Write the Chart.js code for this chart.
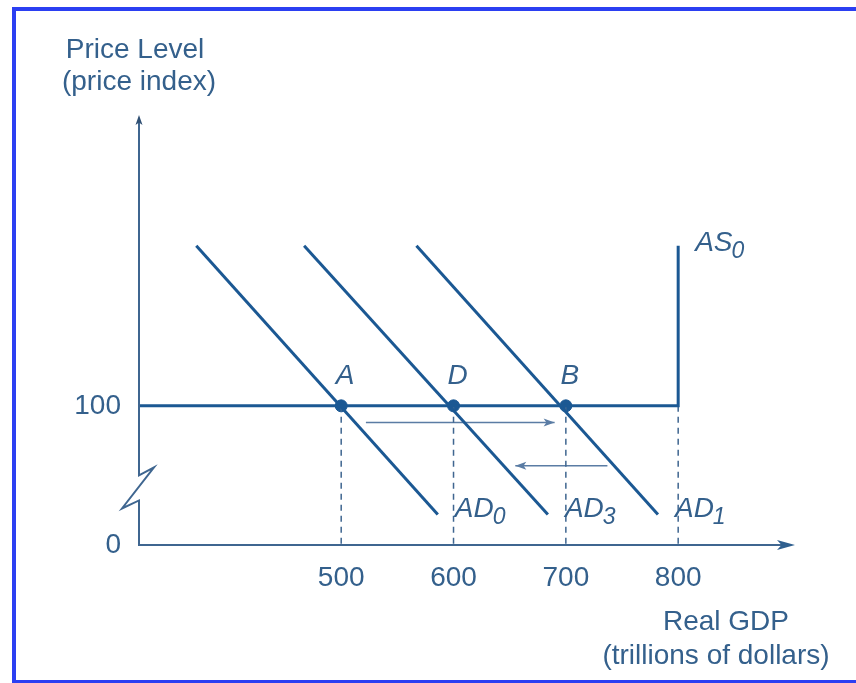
<!DOCTYPE html>
<html>
<head>
<meta charset="utf-8">
<script src="https://cdn.jsdelivr.net/npm/chart.js@4.4.1/dist/chart.umd.min.js"></script>
<style>
  html, body { margin: 0; padding: 0; background: #fff; }
  #wrap { position: relative; width: 856px; height: 683px; overflow: hidden; }
  #frame { position: absolute; left: 12px; top: 7px; width: 900px; height: 676px; box-sizing: border-box;
           border-left: 4px solid #2b3ff2; border-top: 4px solid #2b3ff2; border-bottom: 3px solid #2b3ff2; }
  #chart { position: absolute; left: 0; top: 0; }
</style>
</head>
<body>
<div id="wrap">
  <div id="frame"></div>
  <canvas id="chart" width="856" height="683"></canvas>
</div>
<script>
// Data
const xMin = 320, xMax = 904, yMax = 309;
const xTicks = [500, 600, 700, 800];
const yTicks = [0, 100];
const priceLevel = 100;
const eqNames = ['A', 'D', 'B'];
const eqGDP   = [500, 600, 700];
const adNames = ['AD', 'AD', 'AD'];
const adSubs  = ['0', '3', '1'];
const adTopX  = [371, 467, 567];
const adBotX  = [586, 684, 782];
const adTopY  = 215, adBotY = 22;
const asCap   = 800, asTopY = 215;
const rightShiftX = [522, 690], rightShiftY = 88;
const leftShiftX  = [737, 655], leftShiftY  = 57;

// Styles
const LINE = '#1b5893';
const TEXT = '#34608c';
const DASH = '#3f6690';
const ARROW = '#5a7ca4';
const FONT = '"Liberation Sans", Arial, sans-serif';

const datasets = [];
// AS curve
datasets.push({
  label: 'AS0', showLine: true, pointRadius: 0, borderColor: LINE, borderWidth: 3,
  data: [{x: xMin, y: priceLevel}, {x: asCap, y: priceLevel}, {x: asCap, y: asTopY}]
});
// AD curves
adTopX.forEach((tx, i) => {
  datasets.push({
    label: adNames[i] + adSubs[i], showLine: true, pointRadius: 0, borderColor: LINE, borderWidth: 3,
    data: [{x: tx, y: adTopY}, {x: adBotX[i], y: adBotY}]
  });
});
// dashed drops
xTicks.forEach(v => {
  datasets.push({
    label: 'drop' + v, showLine: true, pointRadius: 0, borderColor: DASH, borderWidth: 1.5,
    borderDash: [6, 5], data: [{x: v, y: priceLevel}, {x: v, y: 0}]
  });
});
// shift arrows
datasets.push({
  label: 'right', showLine: true, pointRadius: 0, borderColor: ARROW, borderWidth: 1.5,
  data: rightShiftX.map(x => ({x, y: rightShiftY}))
});
datasets.push({
  label: 'left', showLine: true, pointRadius: 0, borderColor: ARROW, borderWidth: 1.5,
  data: leftShiftX.map(x => ({x, y: leftShiftY}))
});
// equilibrium points
datasets.push({
  label: 'eq', showLine: false, pointRadius: 6, pointBackgroundColor: LINE, pointBorderColor: LINE,
  data: eqGDP.map(x => ({x, y: priceLevel}))
});

function head(ctx, x, y, ang, len, half, color) {
  ctx.save();
  ctx.translate(x, y); ctx.rotate(ang);
  ctx.fillStyle = color;
  ctx.beginPath();
  ctx.moveTo(0, 0); ctx.lineTo(-len, -half); ctx.lineTo(-len * 0.75, 0); ctx.lineTo(-len, half);
  ctx.closePath(); ctx.fill();
  ctx.restore();
}

function subLabel(ctx, main, sub, x, y) {
  ctx.font = 'italic 28px ' + FONT;
  ctx.textAlign = 'left'; ctx.textBaseline = 'alphabetic';
  ctx.fillText(main, x, y);
  const w = ctx.measureText(main).width;
  ctx.font = 'italic 23px ' + FONT;
  ctx.fillText(sub, x + w - 1, y + 7);
}

const decor = {
  id: 'decor',
  afterDatasetsDraw(chart) {
    const {ctx, chartArea: a, scales: {x, y}} = chart;
    ctx.save();
    // axes
    ctx.strokeStyle = DASH; ctx.lineWidth = 2;
    const ax = a.left, ay = y.getPixelForValue(0);
    const bt = y.getPixelForValue(50), bb = y.getPixelForValue(32);
    ctx.beginPath();
    ctx.moveTo(ax, a.top + 4); ctx.lineTo(ax, bt);
    ctx.lineTo(ax + 15, bt - 8); ctx.lineTo(ax - 17, bb + 8); ctx.lineTo(ax, bb);
    ctx.lineTo(ax, ay); ctx.lineTo(a.right - 8, ay);
    ctx.stroke();
    head(ctx, ax, a.top, -Math.PI / 2, 10, 3.5, '#2f4f73');
    head(ctx, a.right, ay, 0, 18, 5, '#2f5f8f');
    // shift arrow heads
    head(ctx, x.getPixelForValue(rightShiftX[1]), y.getPixelForValue(rightShiftY), 0, 11, 4, ARROW);
    head(ctx, x.getPixelForValue(leftShiftX[1]), y.getPixelForValue(leftShiftY), Math.PI, 11, 4, ARROW);

    ctx.fillStyle = TEXT;
    // point labels
    ctx.font = 'italic 28px ' + FONT;
    ctx.textAlign = 'center'; ctx.textBaseline = 'alphabetic';
    eqNames.forEach((n, i) => {
      ctx.fillText(n, x.getPixelForValue(eqGDP[i]) + 4, y.getPixelForValue(priceLevel) - 22);
    });
    // curve labels
    adNames.forEach((n, i) => {
      subLabel(ctx, n, adSubs[i], x.getPixelForValue(adBotX[i]) + 17, y.getPixelForValue(adBotY) + 3);
    });
    subLabel(ctx, 'AS', '0', x.getPixelForValue(asCap) + 17, y.getPixelForValue(asTopY) + 5);

    // axis titles
    ctx.font = '28px ' + FONT;
    ctx.textAlign = 'center';
    ctx.fillText('Price Level', ax - 4, 58);
    ctx.fillText('(price index)', ax, 90);
    ctx.fillText('Real GDP', 726, 630);
    ctx.fillText('(trillions of dollars)', 716, 664);
    ctx.restore();
  }
};

const tickFont = {family: FONT, size: 28};

new Chart(document.getElementById('chart').getContext('2d'), {
  type: 'scatter',
  data: {datasets},
  options: {
    responsive: false, animation: false,
    layout: {padding: {left: 39, right: 61, top: 115, bottom: 78}},
    plugins: {legend: {display: false}, tooltip: {enabled: false}},
    scales: {
      x: {
        type: 'linear', min: xMin, max: xMax,
        grid: {display: false}, border: {display: false},
        afterBuildTicks: s => { s.ticks = xTicks.map(v => ({value: v})); },
        afterFit: s => { s.height = 60; },
        ticks: {font: tickFont, color: TEXT, padding: 8, maxRotation: 0, autoSkip: false}
      },
      y: {
        type: 'linear', min: 0, max: yMax,
        grid: {display: false}, border: {display: false},
        afterBuildTicks: s => { s.ticks = yTicks.map(v => ({value: v})); },
        afterFit: s => { s.width = 100; },
        ticks: {font: tickFont, color: TEXT, padding: 10, autoSkip: false}
      }
    }
  },
  plugins: [decor]
});
</script>
</body>
</html>
